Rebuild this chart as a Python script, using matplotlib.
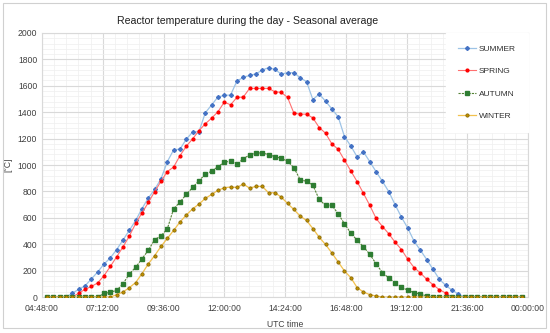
import matplotlib.pyplot as plt
from matplotlib.ticker import MultipleLocator, FuncFormatter
from matplotlib.patches import Rectangle
import numpy as np

plt.rcParams['font.family'] = ['Liberation Sans', 'DejaVu Sans']

# sampling times, every 15 min from 05:00 to 23:45
times = [f"{h:02d}:{m:02d}" for h in range(5, 24) for m in (0, 15, 30, 45)]

summer = [0, 0, 0, 0, 30, 58, 85, 137, 190, 250, 297, 360, 432, 505, 580, 670,
          750, 815, 895, 1025, 1115, 1120, 1195, 1250, 1252, 1395, 1455, 1515,
          1527, 1530, 1636, 1663, 1679, 1690, 1719, 1737, 1724, 1689, 1699, 1699,
          1661, 1631, 1496, 1537, 1484, 1425, 1365, 1215, 1144, 1061, 1099, 1025,
          949, 876, 798, 699, 605, 522, 423, 354, 284, 209, 134, 89, 51, 23,
          0, 0, 0, 0, 0, 0, 0, 0, 0, 0]
spring = [0, 0, 0, 0, 0, 29, 58, 80, 107, 162, 232, 305, 380, 462, 557, 637,
          716, 798, 876, 950, 985, 1070, 1142, 1198, 1260, 1312, 1355, 1403,
          1476, 1456, 1512, 1514, 1580, 1580, 1580, 1580, 1555, 1550, 1512, 1393,
          1385, 1385, 1357, 1284, 1241, 1160, 1119, 1036, 955, 874, 785, 694,
          595, 534, 479, 415, 360, 286, 223, 182, 134, 92, 56, 30, 0, 0,
          0, 0, 0, 0, 0, 0, 0, 0, 0, 0]
autumn = [0, 0, 0, 0, 0, 0, 0, 0, 0, 27, 36, 51, 100, 175, 225, 290,
          354, 435, 463, 517, 668, 719, 777, 830, 881, 929, 954, 987,
          1020, 1030, 1004, 1048, 1076, 1091, 1091, 1079, 1063, 1051, 1028, 980,
          889, 876, 848, 739, 694, 696, 630, 555, 484, 430, 380, 324,
          251, 185, 144, 106, 76, 51, 33, 23, 8, 0, 0, 0, 0, 0,
          0, 0, 0, 0, 0, 0, 0, 0, 0, 0]
winter = [0, 0, 0, 0, 0, 0, 0, 0, 0, 0, 0, 18, 38, 71, 110, 177,
          251, 314, 383, 444, 505, 568, 621, 668, 704, 747, 777, 808,
          828, 833, 830, 856, 825, 838, 838, 790, 790, 757, 709, 663,
          613, 580, 519, 453, 398, 334, 266, 197, 147, 71, 38, 18,
          8, 0, 0, 0, 0, 0, 0, 0, 0, 0, 0, 0, 0, 0,
          0, 0, 0, 0, 0, 0, 0, 0, 0, 0]

# time as fraction of a day, like the spreadsheet
x = np.array([int(t[:2]) * 60 + int(t[3:]) for t in times]) / 1440.0

fig = plt.figure(figsize=(5.5, 3.33), dpi=100)
fig.patches.append(Rectangle((0.006, 0.015), 0.987, 0.975, transform=fig.transFigure,
                             fill=False, edgecolor='#d0d0d0', linewidth=0.8))
ax = fig.add_axes([0.0764, 0.108, 0.8836, 0.793])

ax.plot(x, summer, color='#9dc3e6', lw=0.9, marker='D', ms=2.0,
        mfc='#4472c4', mec='#4472c4', label='SUMMER', zorder=3)
ax.plot(x, spring, color='#ff7070', lw=0.8, marker='o', ms=2.0,
        mfc='#ff0000', mec='#ff0000', label='SPRING', zorder=3)
ax.plot(x, autumn, color='#548235', lw=0.8, ls=(0, (2, 1)), marker='s', ms=2.2,
        mfc='#2e7d32', mec='#2e7d32', label='AUTUMN', zorder=3)
ax.plot(x, winter, color='#f2c14e', lw=0.9, marker='o', ms=2.4,
        mfc='#bf9000', mec='#7f6000', mew=0.5, label='WINTER', zorder=3)

ax.set_xlim(0.2, 1.0)
ax.set_ylim(0, 2000)
ax.xaxis.set_major_locator(MultipleLocator(0.1))
ax.xaxis.set_minor_locator(MultipleLocator(0.02))
ax.yaxis.set_major_locator(MultipleLocator(200))
ax.yaxis.set_minor_locator(MultipleLocator(40))


def hms(v, pos):
    s = int(round(v * 86400)) % 86400
    return f"{s // 3600:02d}:{s % 3600 // 60:02d}:{s % 60:02d}"


ax.xaxis.set_major_formatter(FuncFormatter(hms))
ax.grid(which='major', color='#d9d9d9', lw=0.8)
ax.grid(which='minor', color='#efefef', lw=0.5)
ax.set_axisbelow(True)
ax.tick_params(which='both', length=0, labelsize=6.2, colors='#404040')
ax.tick_params(axis='x', pad=5)
for s in ax.spines.values():
    s.set_color('#d9d9d9')
    s.set_linewidth(0.8)

ax.set_xlabel('UTC time', fontsize=6.2, color='#404040', labelpad=5)
ax.set_ylabel('[°C]', fontsize=6.2, color='#404040', labelpad=4)

fig.text(0.45, 0.937, 'Reactor temperature during the day - Seasonal average',
         ha='center', va='center', fontsize=7.6, color='#202020')

leg = ax.legend(loc='upper right', bbox_to_anchor=(1.0, 1.0), fontsize=6,
                frameon=True, fancybox=False, edgecolor='white', facecolor='white',
                framealpha=1, handlelength=2.2, labelspacing=1.75, borderpad=1.45,
                handletextpad=0.3, borderaxespad=0)
for t in leg.get_texts():
    t.set_color('#303030')

fig.savefig('out.png', dpi=100)
